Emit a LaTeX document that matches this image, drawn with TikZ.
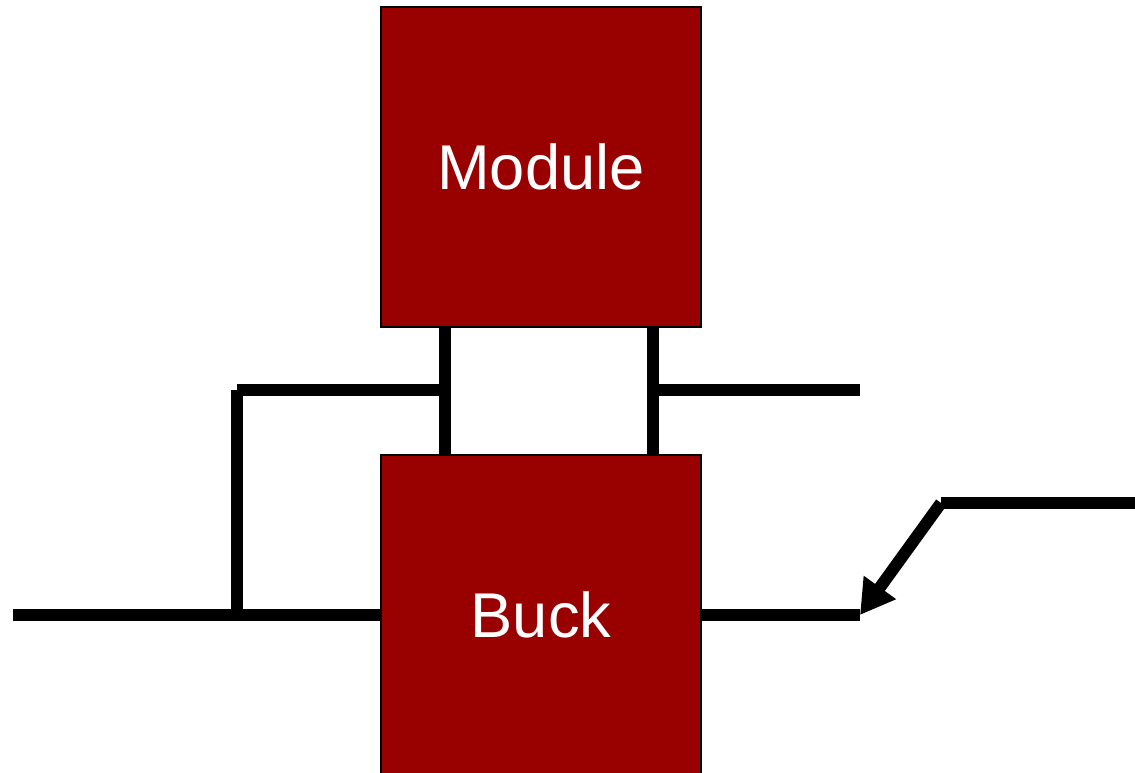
\documentclass[tikz,border=0pt]{standalone}
\usepackage{fontspec}
\setmainfont{Liberation Sans}
\usetikzlibrary{arrows.meta}
\definecolor{brick}{HTML}{990000}
\begin{document}
\begin{tikzpicture}[x=0.02cm,y=-0.02cm,
  block/.style={draw=black,line width=0.9pt,fill=brick,minimum width=6.4cm,minimum height=6.4cm,
    text=white,font=\fontsize{36}{40}\selectfont,inner sep=0pt,outer sep=0pt},
  wire/.style={line width=0.24cm,draw=black}]
\path[clip,use as bounding box] (0,0) rectangle (1135,773);
\node[block] (M) at (541,167) {Module};
\node[block] (B) at (541,615) {Buck};
\coordinate (jL) at (445,390);
\coordinate (cL) at (237,390);
\coordinate (jB) at (237,615);
\coordinate (inL) at (13,615);
\coordinate (jR) at (653,390);
\coordinate (outR) at (860,390);
\coordinate (outB) at (860,615);
\coordinate (arS) at (941,503);
\coordinate (arE) at (1135,503);
\draw[wire] (M.south -| jL) -- (B.north -| jL);
\draw[wire] (M.south -| jR) -- (B.north -| jR);
\draw[wire] (jL) -- (cL);
\draw[wire] (cL) -- (jB);
\draw[wire] (inL) -- (B.west);
\draw[wire] (jR) -- (outR);
\draw[wire] (B.east) -- (outB);
\draw[wire] (arS) -- (arE);
\draw[wire,-{Triangle[length=0.68cm,width=0.75cm]}] (arS) -- (outB);
\end{tikzpicture}
\end{document}
